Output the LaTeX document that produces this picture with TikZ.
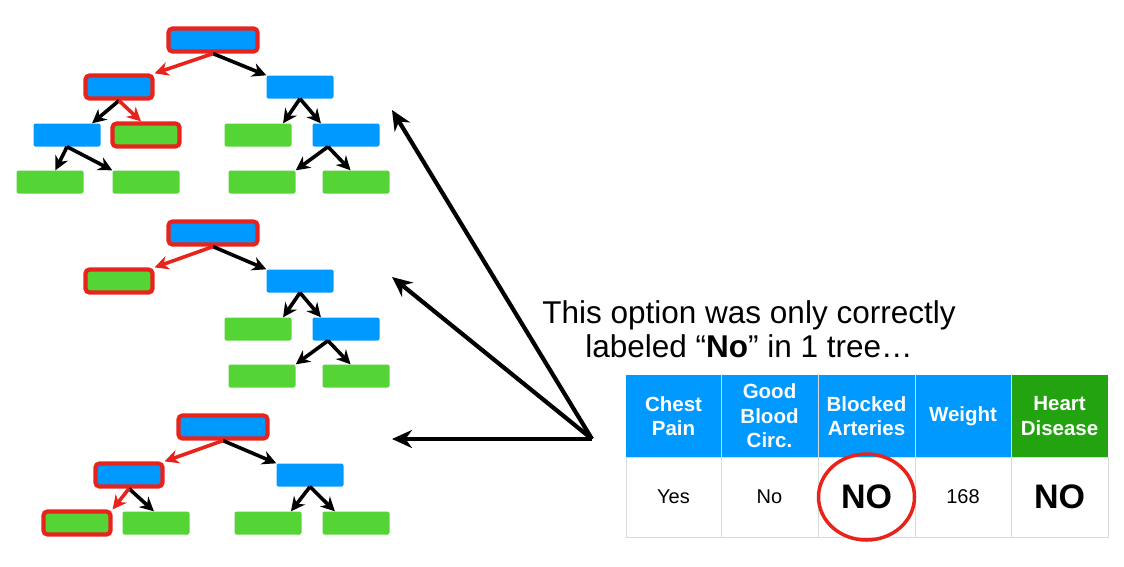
\documentclass[tikz,border=0pt]{standalone}
\usepackage{fontspec}
\setmainfont{Liberation Sans}
\usetikzlibrary{arrows.meta}

\definecolor{nodeblue}{RGB}{0,153,255}
\definecolor{leafgreen}{RGB}{85,212,53}
\definecolor{pathred}{RGB}{232,35,27}
\definecolor{headgreen}{RGB}{34,163,15}
\definecolor{gridgray}{RGB}{218,218,218}

\tikzset{
  split/.style={fill=nodeblue, rounded corners=2pt, minimum width=67pt, minimum height=23pt, inner sep=0pt},
  rootsplit/.style={split, minimum width=89pt, minimum height=23pt},
  leaf/.style={split, fill=leafgreen},
  onpath/.style={draw=pathred, line width=4.2pt, rounded corners=4pt},
  branch/.style={line width=3.6pt, -{Stealth[length=14pt,width=14pt]}},
  redbranch/.style={branch, pathred},
  pointer/.style={line width=4.2pt, -{Stealth[length=20pt,width=18pt]}},
  head/.style={text=white, align=center, font=\bfseries\fontsize{20.5}{24.5}\selectfont},
  cell/.style={font=\fontsize{20}{24}\selectfont},
  bigcell/.style={font=\bfseries\fontsize{34}{36}\selectfont},
}

\begin{document}
\begin{tikzpicture}[x=1pt,y=-1pt]
\useasboundingbox (0,0) rectangle (1124,566);

% tree 1
\node[rootsplit, onpath] (t1root) at (213,40) {};
\node[split, onpath] (t1a) at (119,87) {};
\node[split] (t1b) at (300,87) {};
\node[split] (t1aa) at (67,135) {};
\node[leaf, onpath] (t1ab) at (146,135) {};
\node[leaf] (t1ba) at (258,135) {};
\node[split] (t1bb) at (346,135) {};
\node[leaf] (t1aaa) at (50,182) {};
\node[leaf] (t1aab) at (146,182) {};
\node[leaf] (t1bba) at (262,182) {};
\node[leaf] (t1bbb) at (356,182) {};

\draw[branch] (t1root.south) -- (t1b.north west);
\draw[redbranch] (t1root.south) -- (t1a.north east);
\draw[branch] (t1a.south) -- (t1aa.25);
\draw[redbranch] (t1a.south) -- (t1ab.110);
\draw[branch] (t1b.south) -- (t1ba.25);
\draw[branch] (t1b.south) -- (t1bb.155);
\draw[branch] (t1aa.south) -- (t1aaa.65);
\draw[branch] (t1aa.south) -- (t1aab.north west);
\draw[branch] ([xshift=-18pt]t1bb.south) -- (t1bba.north east);
\draw[branch] ([xshift=-18pt]t1bb.south) -- (t1bbb.115);

% tree 2
\node[rootsplit, onpath] (t2root) at (213,233) {};
\node[leaf, onpath] (t2a) at (119,281) {};
\node[split] (t2b) at (300,281) {};
\node[leaf] (t2ba) at (258,329) {};
\node[split] (t2bb) at (346,329) {};
\node[leaf] (t2bba) at (262,376) {};
\node[leaf] (t2bbb) at (356,376) {};

\draw[branch] (t2root.south) -- (t2b.north west);
\draw[redbranch] (t2root.south) -- (t2a.north east);
\draw[branch] (t2b.south) -- (t2ba.25);
\draw[branch] (t2b.south) -- (t2bb.155);
\draw[branch] ([xshift=-18pt]t2bb.south) -- (t2bba.north east);
\draw[branch] ([xshift=-18pt]t2bb.south) -- (t2bbb.115);

% tree 3
\node[rootsplit, onpath] (t3root) at (223,427) {};
\node[split, onpath] (t3a) at (129,475) {};
\node[split] (t3b) at (310,475) {};
\node[leaf, onpath] (t3aa) at (77,523) {};
\node[leaf] (t3ab) at (156,523) {};
\node[leaf] (t3ba) at (268,523) {};
\node[leaf] (t3bb) at (356,523) {};

\draw[branch] (t3root.south) -- (t3b.north west);
\draw[redbranch] (t3root.south) -- (t3a.north east);
\draw[branch] (t3a.south) -- (t3ab.100);
\draw[redbranch] (t3a.south) -- (t3aa.north east);
\draw[branch] (t3b.south) -- (t3ba.27);
\draw[branch] (t3b.south) -- (t3bb.151);

% pointers
\coordinate (apex) at (592,439);
\coordinate (to1) at (392,110);
\coordinate (to2) at (392,277);
\coordinate (to3) at (392,439);
\draw[pointer] (apex) -- (to1);
\draw[pointer] (apex) -- (to2);
\draw[pointer] (apex) -- (to3);

\node[align=center, font=\fontsize{31.5}{34}\selectfont] (note) at (749,329)
  {This option was only correctly\\labeled “\textbf{No}” in 1 tree…};

% table
\fill[nodeblue] (626,375) rectangle (1011,457);
\fill[headgreen] (1011,375) rectangle (1108,457);
\draw[gridgray, line width=0.8pt] (626,457) rectangle (1108,537);
\foreach \x in {721,818,915,1011}
  \draw[gridgray, line width=0.8pt] (\x,375) -- (\x,537);

\node[head] (hchest) at (673.5,416) {Chest\\Pain};
\node[head] (hblood) at (769.5,416) {Good\\Blood\\Circ.};
\node[head] (hblock) at (866.5,416) {Blocked\\Arteries};
\node[head] (hweight) at (963,416) {Weight};
\node[head] (hheart) at (1059.5,416) {Heart\\Disease};

\node[cell] (vchest) at (673.5,497) {Yes};
\node[cell] (vblood) at (769.5,497) {No};
\node[bigcell] (vblock) at (866.5,497) {NO};
\node[cell] (vweight) at (963,497) {168};
\node[bigcell] (vheart) at (1059.5,497) {NO};

\draw[pathred, line width=3.5pt] (vblock.center) ellipse [x radius=48, y radius=43];
\end{tikzpicture}
\end{document}
